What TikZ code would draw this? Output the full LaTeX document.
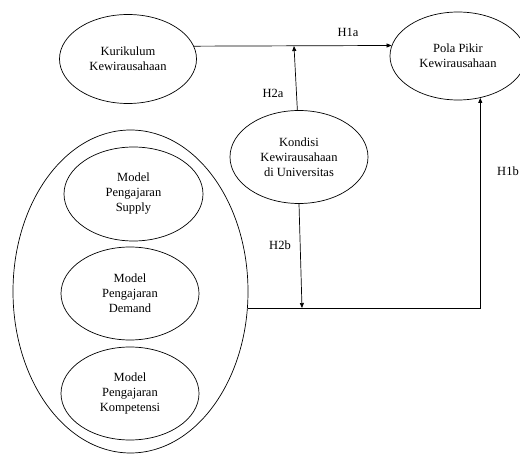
\documentclass[tikz,border=0pt]{standalone}
\usepackage{fontspec}
\setmainfont{Liberation Serif}
\usetikzlibrary{shapes.geometric,arrows.meta}
\begin{document}
\begin{tikzpicture}[x=1pt, y=1pt, line width=0.7pt, >={Triangle[length=5pt,width=4pt]},
    main/.style = {draw, ellipse, align=center, inner sep=0pt, font=\fontsize{12.5}{15}\selectfont},
    hyp/.style = {font=\fontsize{12.5}{15}\selectfont}]
    \useasboundingbox (0,0) rectangle (520,-454);
    \node[main, minimum width=137pt, minimum height=89pt] (1) at (128,-59) {Kurikulum\\Kewirausahaan};
    \node[main, minimum width=136pt, minimum height=88pt] (2) at (458,-56) {Pola Pikir\\Kewirausahaan};
    \node[main, minimum width=138pt, minimum height=93pt] (3) at (299,-157) {Kondisi\\Kewirausahaan\\di Universitas};
    %model pengajaran
    \node[main, minimum width=235pt, minimum height=323pt] (4) at (130.5,-291.5) {};
    \node[main, minimum width=139pt, minimum height=94pt] (5) at (133.5,-194) {Model\\Pengajaran\\Supply};
    \node[main, minimum width=138pt, minimum height=93pt] (6) at (130,-293.5) {Model\\Pengajaran\\Demand};
    \node[main, minimum width=138pt, minimum height=93pt] (7) at (130,-393.5) {Model\\Pengajaran\\Kompetensi};
    \coordinate (j1) at (294,-46);
    \coordinate (j2) at (302,-308);
    %hipotesis
    \draw[->] (1.11) -- (2.171);
    \draw[->] (3.92) -- (j1);
    \draw[->] (3.south) -- (j2);
    \draw[->] (4.-8) -| (2.-62);
    \node[hyp] (h1a) at (348,-32) {H1a};
    \node[hyp] (h2a) at (273,-93) {H2a};
    \node[hyp] (h2b) at (280,-245) {H2b};
    \node[hyp] (h1b) at (508,-171) {H1b};
\end{tikzpicture}
\end{document}
